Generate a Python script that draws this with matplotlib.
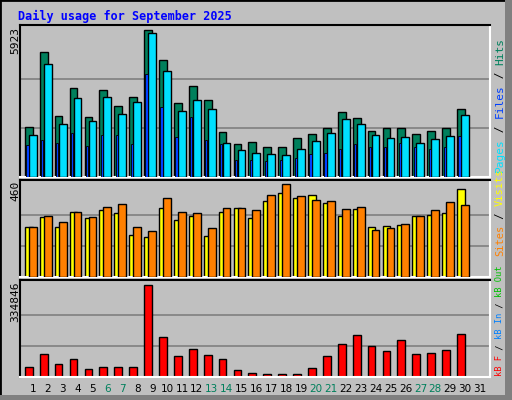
import matplotlib
matplotlib.use("Agg")
import matplotlib.pyplot as plt
from matplotlib.patches import Rectangle
import numpy as np

days = list(range(1, 32))
hits = [2010,5038,2466,3591,2425,3511,2868,3229,5923,4717,2988,3672,3109,1822,1340,1420,1219,1219,1581,1742,1983,2626,2385,1863,1983,1983,1742,1863,1983,2747]
files = [1702,4556,2144,3189,2265,3229,2546,3028,5802,4275,2667,3109,2747,1380,1099,978,938,898,1139,1461,1782,2345,2144,1702,1581,1621,1380,1541,1662,2506]
pages = [1300,1501,1380,1782,1260,1702,1702,1340,4154,2827,1621,2425,1501,1340,697,697,657,697,777,938,978,1139,1340,1219,1219,1380,1219,1139,1219,1662]
visits = [249,294,249,319,289,329,314,209,199,339,284,299,204,319,339,289,374,414,389,404,364,299,334,249,254,259,299,304,314,433]
sites = [249,299,274,319,294,344,359,249,229,389,319,314,244,339,339,329,404,460,399,379,374,334,344,234,244,264,299,329,369,354]
kbytes = [37746,81580,48705,66969,30441,37746,37746,37746,334846,143679,74275,99846,77928,66969,26788,15829,12176,12176,12176,34093,74275,118109,150985,110803,92540,132720,81580,85234,96192,154638]
weekend = [6, 7, 13, 14, 20, 21, 27, 28]

W, H = 512, 400
fig = plt.figure(figsize=(W/100, H/100), dpi=100)
fig.patch.set_facecolor("#c0c0c0")
fig.patches.append(Rectangle((0, 0), 1, 1, transform=fig.transFigure, fill=False, ec="black", lw=2))
fig.patches.append(Rectangle((505/W, 0), 7/W, 1, transform=fig.transFigure, fc="#808080", ec="none"))
fig.patches.append(Rectangle((0, 0), 1, 5/H, transform=fig.transFigure, fc="#808080", ec="none"))

def ax_at(top, bottom):
    return fig.add_axes([20/W, 1-bottom/H, 470/W, (bottom-top)/H])

xl = (0.128, 31.67)
mono = "DejaVu Sans Mono"

def style(ax, vmax, frac_top):
    ax.set_facecolor("#c0c0c0")
    ax.set_xlim(*xl)
    ax.set_ylim(0, vmax*frac_top)
    for g in (vmax/3, 2*vmax/3):
        ax.axhline(g, color="#808080", lw=1.2, zorder=0)
    ax.set_xticks([]); ax.set_yticks([])
    for s in ("top", "left"):
        ax.spines[s].set_color("black"); ax.spines[s].set_linewidth(1.5)
    for s in ("bottom", "right"):
        ax.spines[s].set_color("white"); ax.spines[s].set_linewidth(1.5)

d = np.array(days[:30])
ax1 = ax_at(25, 177)
ax1.bar(d-0.54, hits, width=0.52, align="edge", color="#00805c", ec="black", lw=1, zorder=2)
ax1.bar(d-0.27, files, width=0.52, align="edge", color="#00e0ff", ec="black", lw=1, zorder=3)
ax1.bar(d-0.45, pages, width=0.15, align="edge", color="#0040ff", ec="black", lw=0.6, zorder=4)
style(ax1, max(hits), 456/442)

ax2 = ax_at(179.5, 277)
ax2.bar(d-0.54, visits, width=0.52, align="edge", color="#ffff00", ec="black", lw=1, zorder=2)
ax2.bar(d-0.27, sites, width=0.52, align="edge", color="#ff8000", ec="black", lw=1, zorder=3)
style(ax2, max(sites), 290/277)

ax3 = ax_at(279.5, 377)
ax3.bar(d-0.54, kbytes, width=0.52, align="edge", color="#ff0000", ec="black", lw=1, zorder=2)
style(ax3, max(kbytes), 290/275)

fig.text(18/W, 1-16/H, "Daily usage for September 2025", color="#0000ff", fontsize=8.5,
         fontweight="bold", family=mono, va="center", ha="left")

for top, val in ((27, max(hits)), (181, max(sites)), (282, max(kbytes))):
    fig.text(15/W, 1-top/H, str(val), rotation=90, fontsize=8, family=mono, ha="center", va="top")

for dd in days:
    x = 20 + (dd - xl[0]) / (xl[1]-xl[0]) * 470
    fig.text(x/W, 1-389/H, str(dd), fontsize=7.5, family="DejaVu Sans", ha="center", va="center",
             color="#00805c" if dd in weekend else "black")

def vlabel(bottom, parts, fs):
    adv = fs * 100 / 72 * 0.602
    y = bottom
    for txt, col in parts:
        fig.text(500/W, 1-y/H, txt, rotation=90, fontsize=fs, family=mono, color=col,
                 ha="center", va="bottom")
        y -= len(txt) * adv

vlabel(172, [("Pages", "#00e0ff"), (" / ", "black"), ("Files", "#0040ff"), (" / ", "black"), ("Hits", "#00805c")], 8)
vlabel(256, [("Sites", "#ff8000"), (" / ", "black"), ("Visits", "#ffff00")], 7.5)
vlabel(376, [("kB F", "#ff0000"), (" / ", "black"), ("kB In", "#0080ff"), (" / ", "black"), ("kB Out", "#00c000")], 6.3)

fig.savefig("out.png", dpi=100, facecolor=fig.get_facecolor())
